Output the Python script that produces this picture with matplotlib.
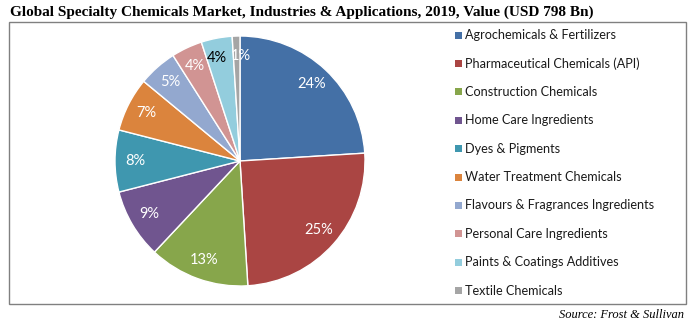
import matplotlib
matplotlib.use("Agg")
import matplotlib.pyplot as plt
from matplotlib.patches import Rectangle

categories = [
    "Agrochemicals & Fertilizers",
    "Pharmaceutical Chemicals (API)",
    "Construction Chemicals",
    "Home Care Ingredients",
    "Dyes & Pigments",
    "Water Treatment Chemicals",
    "Flavours & Fragrances Ingredients",
    "Personal Care Ingredients",
    "Paints & Coatings Additives",
    "Textile Chemicals",
]
shares = [24, 25, 13, 9, 8, 7, 5, 4, 4, 1]
colors = ["#4470A6", "#AA4543", "#87A64B", "#70558F", "#3F97AF",
          "#DB843D", "#93A8CF", "#D19493", "#93CDDD", "#A5A5A5"]
label_colors = ["white"] * 8 + ["black", "white"]

title = "Global Specialty Chemicals Market, Industries & Applications, 2019, Value (USD 798 Bn)"
source = "Source: Frost & Sullivan"

W, H = 690, 325
fig = plt.figure(figsize=(W / 100, H / 100), dpi=100)
fig.patch.set_facecolor("white")

def fx(px):
    return px / W

def fy(py):
    return 1 - py / H

# outer frame
fig.add_artist(Rectangle((fx(9), fy(304)), fx(686) - fx(9), fy(22) - fy(304),
                         transform=fig.transFigure, fill=False,
                         edgecolor="#808080", linewidth=1.0))

fig.text(fx(10), fy(12), title, fontsize=11.0, fontweight="bold",
         family="Liberation Serif", va="center", ha="left", color="black")
fig.text(fx(684), fy(315), source, fontsize=9, style="italic",
         family="Liberation Serif", va="center", ha="right", color="black")

# pie
cx, cy, r = 240, 161, 125
ax = fig.add_axes([fx(cx - r), fy(cy + r), (2 * r) / W, (2 * r) / H])
wedges, texts, autotexts = ax.pie(
    shares, colors=colors, startangle=90, counterclock=False,
    autopct=lambda p: f"{p:.0f}%", pctdistance=0.84,
    wedgeprops=dict(edgecolor="white", linewidth=1.0),
    textprops=dict(fontsize=10.5, family="Lato"),
)
for t, c in zip(autotexts, label_colors):
    t.set_color(c)
# the two thinnest slices sit side by side at the top: ease their labels apart
x4, y4 = autotexts[8].get_position()
autotexts[8].set_position((x4 - 0.03, y4))
x1, y1 = autotexts[9].get_position()
autotexts[9].set_position((x1 + 0.03, y1))
ax.set_xlim(-1, 1)
ax.set_ylim(-1, 1)
ax.set_aspect("equal")
ax.axis("off")

# legend
x_box, y0, pitch = 455, 35, 28.4
for i, (name, col) in enumerate(zip(categories, colors)):
    yy = y0 + i * pitch
    fig.add_artist(Rectangle((fx(x_box), fy(yy + 3.5)), 7 / W, 7 / H,
                             transform=fig.transFigure, facecolor=col,
                             edgecolor="none"))
    fig.text(fx(x_box + 10), fy(yy), name, fontsize=9.1, family="Lato",
             va="center", ha="left", color="#1a1a1a")

fig.savefig("out.png", dpi=100)
